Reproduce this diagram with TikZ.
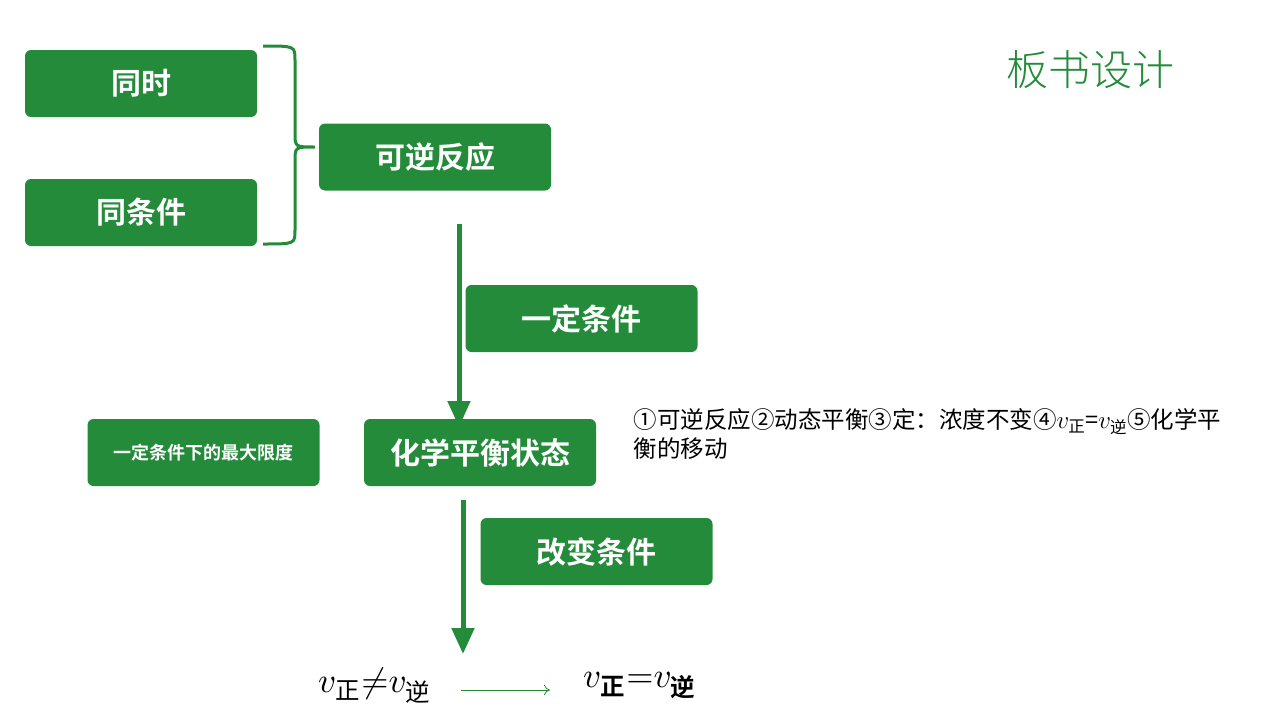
\documentclass[tikz,border=0pt]{standalone}
\usepackage{fontspec}
\usepackage{amsmath}
\usepackage{graphicx}
\newfontfamily\cjk{Noto Sans CJK SC}
\newfontfamily\cjkb{Noto Sans CJK SC Bold}
\newfontfamily\cjkl{Noto Sans CJK SC Light}
\usetikzlibrary{arrows.meta}
\definecolor{g}{HTML}{238B3A}
\begin{document}
\begin{tikzpicture}[x=1pt,y=-1pt,
 box/.style={fill=g,text=white,minimum width=232pt,minimum height=67pt,inner sep=0pt,rounded corners=6pt,font=\cjkb\fontsize{30}{32}\selectfont},
 big/.style={g,line width=5pt,-{Triangle[length=26pt,width=22pt]}}]
\useasboundingbox (0,0) rectangle (1280,720);
\node[box] (tong) at (141,83.5) {同时};
\node[box] (tongc) at (141,212.5) {同条件};
\node[box] (kn) at (435,157) {可逆反应};
\node[box] (yd) at (581.5,318.5) {一定条件};
\node[box,font=\cjkb\fontsize{18}{20}\selectfont] (xd) at (203.5,452.5) {一定条件下的最大限度};
\node[box] (hx) at (480,452.5) {化学平衡状态};
\node[box] (gb) at (596.5,551.5) {改变条件};
\node[text=g,font=\cjkl\fontsize{42}{44}\selectfont] (title) at (1090,70) {板书设计};
\draw[g,line width=3pt] (263,46) .. controls (295,46) .. (295,60) -- (295,133) .. controls (295,147) .. (315,147) .. controls (295,147) .. (295,161) -- (295,230) .. controls (295,244) .. (263,244);
\coordinate (a1) at (459,224);
\coordinate (a1e) at (459,427);
\draw[big] (a1) -- (a1e);
\coordinate (a2) at (463,500);
\coordinate (a2e) at (463,654);
\draw[big] (a2) -- (a2e);
\node[anchor=north west,align=left,text width=640pt,font=\cjk\fontsize{23.5}{29}\selectfont] (note) at (630,405) {①可逆反应②动态平衡③定：浓度不变④$v_{\text{\cjk 正}}$=$v_{\text{\cjk 逆}}$⑤化学平\\衡的移动};
\node (ne) at (375,686) {\scalebox{3.5}{$v_{\text{\cjk 正}}{\neq}v_{\text{\cjk 逆}}$}};
\node (eq) at (640,686) {\scalebox{3.5}{$v_{\text{\cjkb 正}}{=}v_{\text{\cjkb 逆}}$}};
\coordinate (s1) at (461,690);
\coordinate (s2) at (550,690);
\draw[g,line width=0.8pt,-{To[length=6pt,width=10pt]}] (s1) -- (s2);
\end{tikzpicture}
\end{document}
